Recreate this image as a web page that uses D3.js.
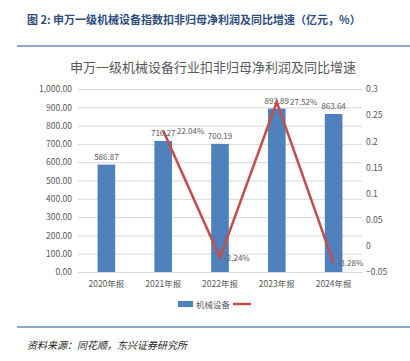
<!DOCTYPE html>
<html><head><meta charset="utf-8">
<script src="https://cdn.jsdelivr.net/npm/d3@7"></script>
<style>body{margin:0;background:#fff;}svg{display:block;}</style>
</head><body>
<svg id="c" width="410" height="361"></svg>
<script>
const categories = ["2020年报","2021年报","2022年报","2023年报","2024年报"];
const profit = [586.87, 716.27, 700.19, 892.89, 863.64];
const growth = [null, 0.2204, -0.0224, 0.2752, -0.0328];
const growthLabels = [null, "22.04%", "-2.24%", "27.52%", "-3.28%"];
const leftTicks = [0,100,200,300,400,500,600,700,800,900,1000];
const rightTicks = [-0.05,0,0.05,0.1,0.15,0.2,0.25,0.3];

const svg = d3.select("#c");
const font = "'Noto Sans CJK SC','Liberation Sans',sans-serif";
const gray = "#595959";

svg.append("text").attr("x",27).attr("y",24).attr("font-family",font).attr("font-size",11)
  .attr("font-weight","bold").attr("fill","#2f4d7e").text("图 2: 申万一级机械设备指数扣非归母净利润及同比增速（亿元，%）");
svg.append("line").attr("x1",17).attr("x2",410).attr("y1",46).attr("y2",46).attr("stroke","#8eaacb").attr("stroke-width",2);
svg.append("line").attr("x1",17).attr("x2",410).attr("y1",327).attr("y2",327).attr("stroke","#8eaacb").attr("stroke-width",2);
svg.append("text").attr("x",27).attr("y",349).attr("font-family",font).attr("font-size",10)
  .attr("font-style","italic").attr("fill","#222").text("资料来源：同花顺，东兴证券研究所");

svg.append("text").attr("x",213).attr("y",72).attr("text-anchor","middle").attr("font-family",font)
  .attr("font-size",13).attr("fill",gray).text("申万一级机械设备行业扣非归母净利润及同比增速");

const x0=78, x1=362, yTop=89, yBot=272;
const x = d3.scaleBand().domain(categories).range([x0,x1]).paddingInner(0.69).paddingOuter(0.345);
const xc = d3.scalePoint().domain(categories).range([x0,x1]).padding(0.5);
const yL = d3.scaleLinear().domain([0,1000]).range([yBot,yTop]);
const yR = d3.scaleLinear().domain([-0.05,0.3]).range([yBot,yTop]);

const gl = svg.append("g").attr("transform",`translate(${x0},0)`)
  .call(d3.axisLeft(yL).tickValues(leftTicks).tickSize(-(x1-x0)).tickFormat(d3.format(",.2f")));
gl.select(".domain").remove();
gl.selectAll(".tick line").attr("stroke","#d9d9d9");
gl.selectAll(".tick text").attr("x",-6).attr("font-family",font).attr("font-size",8.5).attr("fill",gray);

const gr = svg.append("g").attr("transform",`translate(${x1},0)`)
  .call(d3.axisRight(yR).tickValues(rightTicks).tickSize(0).tickFormat(d=>d3.format("")(+d.toFixed(2))));
gr.select(".domain").remove();
gr.selectAll(".tick text").attr("x",4).attr("font-family",font).attr("font-size",8.5).attr("fill",gray);

const gx = svg.append("g").attr("transform",`translate(0,${yBot})`).call(d3.axisBottom(x).tickSize(0));
gx.select(".domain").attr("stroke","#d9d9d9");
gx.selectAll(".tick text").attr("dy",12).attr("font-family",font).attr("font-size",8.5).attr("fill",gray);

svg.append("g").selectAll("rect").data(profit).join("rect")
  .attr("x",(d,i)=>x(categories[i])).attr("width",x.bandwidth())
  .attr("y",d=>yL(d)).attr("height",d=>yBot-yL(d)).attr("fill","#4f81bd");
const barLabels = svg.append("g").selectAll("text").data(profit).join("text")
  .attr("x",(d,i)=>xc(categories[i])).attr("y",d=>yL(d)-5).attr("text-anchor","middle")
  .attr("font-family",font).attr("font-size",8).attr("fill",gray).text(d=>d3.format(".2f")(d));
const bboxes = barLabels.nodes().map(n=>n.getBBox());

const pts = growth.map((g,i)=>({g,i})).filter(p=>p.g!==null);
svg.append("path").datum(pts).attr("fill","none").attr("stroke","#c0504d").attr("stroke-width",2.5)
  .attr("d",d3.line().x(p=>xc(categories[p.i])).y(p=>yR(p.g)));
svg.append("g").selectAll("text").data(pts).join("text")
  .attr("x",p=>{
    const cx = xc(categories[p.i]) + 4;
    const b = bboxes[p.i], ty = yR(p.g);
    const overlapsY = ty+3 > b.y && ty-6 < b.y + b.height;
    return overlapsY ? Math.max(cx, b.x + b.width + 1) : cx;
  })
  .attr("y",p=>yR(p.g)+3).attr("font-family",font)
  .attr("font-size",8).attr("fill",gray).text(p=>growthLabels[p.i]);

const lg = svg.append("g");
lg.append("rect").attr("x",178).attr("y",301).attr("width",15).attr("height",6).attr("fill","#4f81bd");
lg.append("text").attr("x",196).attr("y",308).attr("font-family",font).attr("font-size",8.5).attr("fill",gray).text("机械设备");
lg.append("line").attr("x1",233).attr("x2",251).attr("y1",304).attr("y2",304).attr("stroke","#c0504d").attr("stroke-width",2.5);
</script>
</body></html>
